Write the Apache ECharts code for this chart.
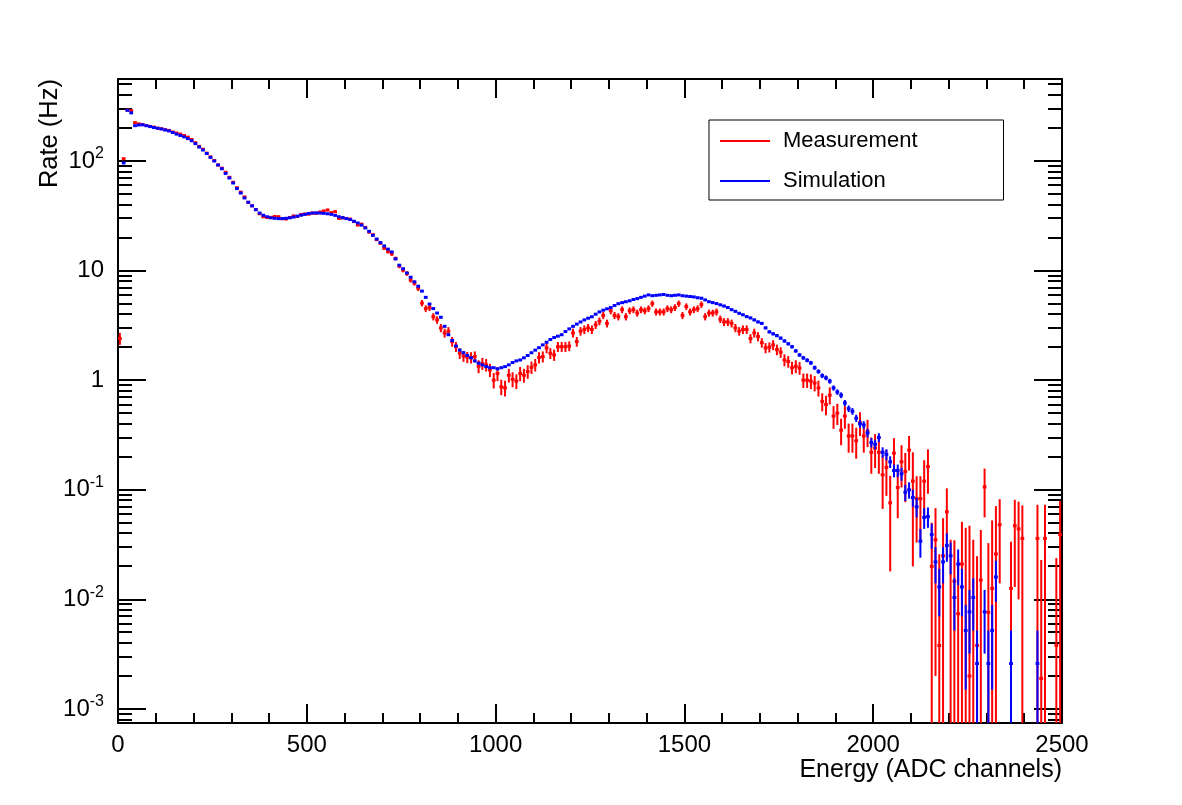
<!DOCTYPE html>
<html>
<head>
<meta charset="utf-8">
<script src="https://cdn.jsdelivr.net/npm/echarts@6/dist/echarts.min.js"></script>
<style>
html,body{margin:0;padding:0;background:#fff;}
#chart{width:1182px;height:805px;}
</style>
</head>
<body>
<div id="chart"></div>
<script>
// ---------------- DATA ----------------
// 250 bins of 10 ADC channels each, from 0 to 2500
const binWidth = 10;

const measurement = [
  2.4, 105, 292, 288, 224, 218, 215, 211, 207, 204,
  199, 197, 193, 190, 184, 180, 176, 171, 165, 157,
  147, 136, 128, 118, 109, 101, 92, 86, 79, 71,
  64, 57, 52, 47, 42, 39, 36, 33, 31, 30.5,
  30.6, 31.2, 31, 29.8, 29.6, 30.5, 31.5, 31.2, 32.5, 32.8,
  32.8, 33.5, 33.4, 34.2, 35, 35.7, 33.8, 34.5, 30, 30.3,
  29.9, 29.5, 28, 26.1, 26.5, 24.8, 22.5, 21.2, 19.2, 17.8,
  16, 14.9, 14.2, 12.9, 11, 10.1, 9.4, 8.2, 7.7, 6.9,
  5.05, 4.5, 4.6, 3.8, 3.55, 3.0, 2.7, 2.8, 2.25, 2.02,
  1.76, 1.66, 1.62, 1.61, 1.64, 1.34, 1.42, 1.38, 1.24, 1.0,
  1.15, 0.87, 0.85, 1.11, 1.02, 0.98, 1.15, 1.11, 1.2, 1.31,
  1.38, 1.61, 1.64, 1.97, 1.76, 1.7, 2.02, 2.02, 2.02, 2.05,
  2.7, 2.25, 2.8, 2.9, 3.0, 2.9, 3.2, 3.45, 3.9, 3.3,
  4.3, 3.9, 3.8, 4.4, 3.8, 4.3, 4.4, 4.1, 4.4, 4.3,
  4.5, 5.0, 4.2, 4.2, 4.2, 4.5, 4.4, 4.6, 5.0, 3.9,
  4.7, 4.2, 4.4, 4.5, 4.9, 3.8, 4.1, 4.1, 4.2, 3.6,
  3.4, 3.4, 3.3, 3.0, 2.8, 2.9, 2.9, 2.4, 2.7, 2.5,
  2.2, 1.97, 2.0, 2.1, 1.9, 1.8, 1.53, 1.48, 1.3, 1.34,
  1.29, 1.0, 1.0, 0.98, 0.94, 0.85, 0.64, 0.6, 0.73, 0.47,
  0.5, 0.35, 0.47, 0.31, 0.31, 0.28, 0.41, 0.31, 0.34, 0.22,
  0.24, 0.22, 0.137, 0.16, 0.076, 0.216, 0.105, 0.18, 0.147, 0.23,
  0.12, 0.083, 0.083, 0.12, 0.163, 0.02, 0.035, 0.0038, 0.025, 0.063,
  -0.01, 0.0146, 0.0074, 0.021, -0.005, 0.002, -0.01, 0.0038, 0.015, 0.106,
  0.0076, 0.0126, 0.026, 0.048, null, null, 0.0126, 0.047, 0.044, 0.036,
  null, null, null, 0.036, 0.0019, 0.036, null, null, 0.0038, 0.039
];

const measurementErr = [
  0.3, 1.5, 2.5, 2.5, 2.2, 2.2, 2.2, 2.2, 2.1, 2.1,
  2.1, 2.1, 2.1, 2.0, 2.0, 2.0, 2.0, 1.9, 1.9, 1.9,
  1.8, 1.7, 1.7, 1.6, 1.5, 1.5, 1.4, 1.4, 1.3, 1.25,
  1.2, 1.1, 1.1, 1.0, 0.96, 0.93, 0.89, 0.85, 0.83, 0.82,
  0.82, 0.83, 0.83, 0.81, 0.81, 0.82, 0.83, 0.83, 0.85, 0.85,
  0.85, 0.86, 0.86, 0.87, 0.88, 0.89, 0.86, 0.87, 0.81, 0.82,
  0.81, 0.81, 0.79, 0.76, 0.76, 0.74, 0.7, 0.68, 0.65, 0.63,
  0.59, 0.57, 0.56, 0.53, 0.49, 0.47, 0.46, 0.43, 0.41, 0.39,
  0.34, 0.32, 0.32, 0.29, 0.28, 0.26, 0.25, 0.25, 0.23, 0.21,
  0.2, 0.19, 0.19, 0.19, 0.19, 0.18, 0.18, 0.18, 0.17, 0.16,
  0.17, 0.14, 0.14, 0.16, 0.16, 0.15, 0.17, 0.16, 0.17, 0.17,
  0.18, 0.19, 0.19, 0.21, 0.2, 0.2, 0.21, 0.21, 0.21, 0.21,
  0.25, 0.23, 0.25, 0.26, 0.26, 0.26, 0.27, 0.28, 0.29, 0.27,
  0.31, 0.29, 0.29, 0.31, 0.29, 0.31, 0.31, 0.3, 0.31, 0.31,
  0.32, 0.33, 0.31, 0.31, 0.31, 0.32, 0.31, 0.32, 0.33, 0.29,
  0.32, 0.31, 0.31, 0.32, 0.33, 0.29, 0.3, 0.3, 0.31, 0.28,
  0.28, 0.28, 0.27, 0.26, 0.25, 0.26, 0.26, 0.23, 0.25, 0.24,
  0.22, 0.21, 0.21, 0.22, 0.21, 0.2, 0.19, 0.18, 0.17, 0.18,
  0.17, 0.15, 0.15, 0.15, 0.15, 0.14, 0.12, 0.12, 0.13, 0.11,
  0.11, 0.095, 0.11, 0.092, 0.092, 0.088, 0.1, 0.092, 0.095, 0.08,
  0.082, 0.08, 0.07, 0.072, 0.058, 0.08, 0.05, 0.075, 0.07, 0.08,
  0.1, 0.05, 0.05, 0.066, 0.071, 0.03, 0.033, 0.022, 0.03, 0.04,
  0.045, 0.02, 0.016, 0.03, 0.05, 0.045, 0.045, 0.021, 0.028, 0.05,
  0.025, 0.04, 0.045, 0.034, null, null, 0.021, 0.034, 0.034, 0.036,
  null, null, null, 0.037, 0.021, 0.037, null, null, 0.02, 0.04
];

const simulation = [
  null, 96, 290, 275, 210, 213, 214, 210, 206, 202,
  199, 196, 192, 188, 182, 176, 171, 166, 160, 153,
  144, 134, 126, 117, 108, 100, 92, 85, 77, 70,
  63, 56, 51, 46, 42, 39, 36, 33.5, 32, 31,
  30.3, 30, 29.8, 29.8, 30, 30.3, 30.8, 31.4, 32, 32.6,
  33.2, 33.5, 33.6, 33.5, 33.3, 33, 32.6, 31.9, 31, 30.4,
  29.8, 29.2, 28.2, 27.2, 26, 24.5, 22.8, 21, 19.4, 18,
  16.8, 15.7, 14.8, 12.8, 11.2, 10.4, 9.5, 8.7, 7.9, 7.2,
  6.5, 5.7, 4.95, 4.5, 4.1, 3.75, 3.1, 2.6, 2.3, 2.05,
  1.88, 1.78, 1.68, 1.6, 1.5, 1.43, 1.38, 1.33, 1.3, 1.3,
  1.27, 1.3, 1.33, 1.38, 1.45, 1.5, 1.53, 1.6, 1.68, 1.78,
  1.88, 1.98, 2.1, 2.22, 2.35, 2.45, 2.52, 2.6, 2.78, 2.94,
  3.1, 3.25, 3.4, 3.55, 3.68, 3.79, 4.0, 4.2, 4.35, 4.48,
  4.6, 4.8, 4.99, 5.1, 5.2, 5.3, 5.45, 5.55, 5.7, 5.85,
  6.0, 5.9, 5.95, 6.0, 6.05, 5.95, 5.9, 5.95, 6.0, 5.9,
  5.85, 5.8, 5.75, 5.65, 5.6, 5.4, 5.2, 5.1, 5.0, 4.87,
  4.75, 4.6, 4.4, 4.25, 4.08, 3.95, 3.8, 3.7, 3.55, 3.4,
  3.3, 3.0, 2.76, 2.65, 2.55, 2.42, 2.28, 2.15, 2.02, 1.85,
  1.7, 1.6, 1.52, 1.44, 1.3, 1.2, 1.1, 1.05, 0.98, 0.85,
  0.78, 0.73, 0.62, 0.55, 0.52, 0.45, 0.4, 0.39, 0.33, 0.27,
  0.26, 0.3, 0.22, 0.21, 0.18, 0.15, 0.15, 0.14, 0.095, 0.1,
  0.085, 0.07, 0.034, 0.056, 0.057, 0.039, 0.022, 0.013, 0.022, 0.031,
  0.025, 0.0104, 0.021, 0.013, 0.0052, 0.0077, 0.0104, 0.0026, null, 0.0077,
  0.0026, 0.0052, 0.016, null, null, null, 0.0026, null, null, null,
  null, null, null, 0.0026, null, null, null, null, null, null
];

const simulationErr = [
  0, 0, 0, 0, 0, 0, 0, 0, 0, 0,
  0, 0, 0, 0, 0, 0, 0, 0, 0, 0,
  0, 0, 0, 0, 0, 0, 0, 0, 0, 0,
  0, 0, 0, 0, 0, 0, 0, 0, 0, 0,
  0, 0, 0, 0, 0, 0, 0, 0, 0, 0,
  0, 0, 0, 0, 0, 0, 0, 0, 0, 0,
  0, 0, 0, 0, 0, 0, 0, 0, 0, 0,
  0, 0, 0, 0, 0, 0, 0, 0, 0, 0,
  0, 0, 0, 0, 0, 0, 0, 0, 0, 0,
  0, 0, 0, 0, 0, 0, 0, 0, 0, 0,
  0, 0, 0, 0, 0, 0, 0, 0, 0, 0,
  0, 0, 0, 0, 0, 0, 0, 0, 0, 0,
  0, 0, 0, 0, 0, 0, 0, 0, 0, 0,
  0, 0, 0, 0, 0, 0, 0, 0, 0, 0,
  0, 0, 0, 0, 0, 0, 0, 0, 0, 0,
  0.12, 0.12, 0.12, 0.12, 0.12, 0.12, 0.12, 0.12, 0.11, 0.11,
  0.11, 0.11, 0.11, 0.1, 0.1, 0.1, 0.1, 0.1, 0.1, 0.095,
  0.093, 0.09, 0.085, 0.083, 0.081, 0.08, 0.077, 0.075, 0.072, 0.07,
  0.066, 0.065, 0.063, 0.061, 0.058, 0.056, 0.054, 0.052, 0.051, 0.047,
  0.045, 0.044, 0.04, 0.038, 0.037, 0.034, 0.033, 0.032, 0.03, 0.027,
  0.026, 0.028, 0.024, 0.024, 0.022, 0.02, 0.02, 0.019, 0.016, 0.017,
  0.015, 0.014, 0.01, 0.012, 0.012, 0.01, 0.008, 0.006, 0.008, 0.009,
  0.008, 0.0052, 0.0075, 0.006, 0.0037, 0.0045, 0.0052, 0.0026, null, 0.0045,
  0.0026, 0.0037, 0.0065, null, null, null, 0.0026, null, null, null,
  null, null, null, 0.0026, null, null, null, null, null, null
];

const seriesNames = ['Measurement', 'Simulation'];
const xTickLabels = [0, 500, 1000, 1500, 2000, 2500];
const yDecadeExponents = [-4, -3, -2, -1, 0, 1, 2];
const yMinorMultipliers = [2, 3, 4, 5, 6, 7, 8, 9];

// ---------------- CHART ----------------
const Y_MIN = 7.45e-4, Y_MAX = 560;
const X_MIN = xTickLabels[0], X_MAX = xTickLabels[xTickLabels.length - 1];
const FONT = 'Liberation Sans, Arial, Helvetica, sans-serif';
const RED = '#ff0000', BLUE = '#0000ff';

const binCenters = measurement.map((_, i) => X_MIN + binWidth * (i + 0.5));

function buildData(vals, errs) {
  const out = [];
  for (let i = 0; i < vals.length; i++) {
    const v = vals[i];
    if (v === null || v === undefined) continue;
    const e = errs[i] || 0;
    out.push([binCenters[i], Math.max(v, Y_MIN), v, e]);
  }
  return out;
}

function makeErrRender(color) {
  return function (params, api) {
    const x = api.value(0), v = api.value(2), e = api.value(3);
    const hi = v + e, lo = v - e;
    if (!(hi > Y_MIN)) return null;
    const children = [];
    const pTop = api.coord([x, Math.min(hi, Y_MAX)]);
    const pBot = api.coord([x, Math.max(lo, Y_MIN)]);
    if (pBot[1] - pTop[1] > 0.5) {
      children.push({
        type: 'line',
        shape: { x1: pTop[0], y1: pBot[1], x2: pTop[0], y2: pTop[1] },
        style: { stroke: color, lineWidth: 2 }
      });
    }
    if (v > Y_MIN && v < Y_MAX) {
      const pl = api.coord([x - binWidth / 2, v]);
      const pr = api.coord([x + binWidth / 2, v]);
      children.push({
        type: 'line',
        shape: { x1: pl[0], y1: pl[1], x2: pr[0], y2: pr[1] },
        style: { stroke: color, lineWidth: 3 }
      });
    }
    return { type: 'group', children: children };
  };
}

const minorTickValues = [];
yDecadeExponents.forEach(ex => {
  yMinorMultipliers.forEach(m => {
    const v = m * Math.pow(10, ex);
    if (v > Y_MIN && v < Y_MAX) minorTickValues.push([X_MIN, v]);
  });
});

function minorTickRender(params, api) {
  const p = api.coord([api.value(0), api.value(1)]);
  const cs = params.coordSys;
  const y = Math.round(p[1]);
  const len = 14;
  return {
    type: 'group',
    children: [
      { type: 'line', shape: { x1: cs.x, y1: y, x2: cs.x + len, y2: y }, style: { stroke: '#000', lineWidth: 2 } },
      { type: 'line', shape: { x1: cs.x + cs.width - len, y1: y, x2: cs.x + cs.width, y2: y }, style: { stroke: '#000', lineWidth: 2 } }
    ]
  };
}

function yLabel(val) {
  const lg = Math.log10(val);
  const p = Math.round(lg);
  if (Math.abs(lg - p) > 1e-6) return '';
  if (p === 0) return '{b|1}';
  if (p === 1) return '{b|10}';
  return '{b|10}{s|' + p + '}';
}

const commonX = {
  type: 'value', min: X_MIN, max: X_MAX, interval: 500,
  splitLine: { show: false },
  axisLine: { show: true, onZero: false, lineStyle: { color: '#000', width: 2 } },
  axisTick: { show: true, inside: true, length: 19, lineStyle: { color: '#000', width: 2 } },
  minorTick: { show: true, splitNumber: 5, length: 10, lineStyle: { color: '#000', width: 2 } },
  minorSplitLine: { show: false }
};
const commonY = {
  type: 'log', logBase: 10, min: Y_MIN, max: Y_MAX,
  splitLine: { show: false },
  axisLine: { show: true, onZero: false, lineStyle: { color: '#000', width: 2 } },
  axisTick: { show: true, inside: true, length: 28, lineStyle: { color: '#000', width: 2 } },
  minorTick: { show: false }
};

const option = {
  animation: false,
  backgroundColor: '#fff',
  textStyle: { fontFamily: FONT },
  grid: { left: 118, right: 120, top: 79, bottom: 82, containLabel: false },
  xAxis: [
    Object.assign({}, commonX, {
      position: 'bottom',
      axisLabel: { show: true, fontSize: 24, color: '#000', fontFamily: FONT, margin: 10,
        showMinLabel: true, showMaxLabel: true, formatter: v => String(v) }
    }),
    Object.assign({}, commonX, { position: 'top', axisLabel: { show: false } })
  ],
  yAxis: [
    Object.assign({}, commonY, {
      position: 'left',
      axisLabel: {
        show: true, color: '#000', fontFamily: FONT, margin: 14,
        showMinLabel: false, showMaxLabel: false,
        formatter: yLabel,
        rich: {
          b: { fontSize: 24, fontFamily: FONT, color: '#000', lineHeight: 30 },
          s: { fontSize: 16, fontFamily: FONT, color: '#000', lineHeight: 16, verticalAlign: 'top' }
        }
      }
    }),
    Object.assign({}, commonY, { position: 'right', axisLabel: { show: false } })
  ],
  legend: {
    data: seriesNames,
    orient: 'vertical',
    left: 709, top: 120,
    icon: 'rect', itemWidth: 50, itemHeight: 2,
    itemGap: 16,
    padding: [9, 86, 7, 11],
    borderColor: '#000', borderWidth: 1, borderRadius: 0,
    backgroundColor: '#fff',
    selectedMode: false,
    textStyle: { fontFamily: FONT, fontSize: 22, color: '#000', lineHeight: 24, padding: [0, 0, 0, 8] }
  },
  graphic: [
    { type: 'text', x: 1062, y: 770, silent: true,
      style: { text: 'Energy (ADC channels)', font: '25px ' + FONT, fill: '#000', align: 'right', verticalAlign: 'middle' } },
    { type: 'text', x: 50, y: 79, rotation: Math.PI / 2, silent: true,
      style: { text: 'Rate (Hz)', font: '25.5px ' + FONT, fill: '#000', align: 'right', verticalAlign: 'middle' } }
  ],
  series: [
    {
      name: 'yMinorTicks', type: 'custom', silent: true, xAxisIndex: 0, yAxisIndex: 0,
      renderItem: minorTickRender, data: minorTickValues, encode: { x: 0, y: 1 }, clip: false, z: 1
    },
    {
      name: seriesNames[0], type: 'custom', xAxisIndex: 0, yAxisIndex: 0,
      color: RED, itemStyle: { color: RED },
      renderItem: makeErrRender(RED), data: buildData(measurement, measurementErr),
      encode: { x: 0, y: 1 }, clip: true, z: 2
    },
    {
      name: seriesNames[1], type: 'custom', xAxisIndex: 0, yAxisIndex: 0,
      color: BLUE, itemStyle: { color: BLUE },
      renderItem: makeErrRender(BLUE), data: buildData(simulation, simulationErr),
      encode: { x: 0, y: 1 }, clip: true, z: 3
    }
  ]
};

const chart = echarts.init(document.getElementById('chart'), null, { renderer: 'canvas' });
chart.setOption(option);
</script>
</body>
</html>
